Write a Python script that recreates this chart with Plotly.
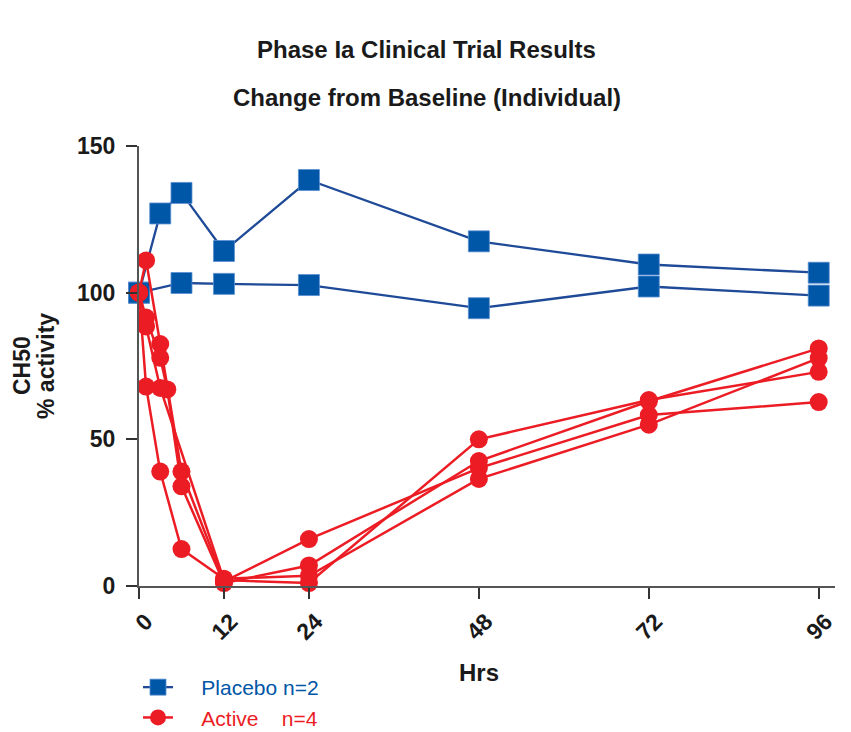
import plotly.graph_objects as go

# ---------------- data ----------------
tick_hours = [0, 12, 24, 48, 72, 96]
tick_labels = ["0", "12", "24", "48", "72", "96"]

placebo1_h = [0, 3, 6, 12, 24, 48, 72, 96]
placebo1_v = [100, 127, 134, 114.2, 138.4, 117.5, 109.6, 106.8]
placebo2_h = [0, 6, 12, 24, 48, 72, 96]
placebo2_v = [100, 103.3, 103, 102.6, 94.7, 102.1, 99.0]

active1_h = [0, 1, 3, 6, 12, 24, 48, 72, 96]
active1_v = [100, 111, 82.5, 39, 1.5, 16, 40.2, 58.3, 62.7]
active2_h = [0, 1, 3, 4, 6, 12, 24, 48, 72, 96]
active2_v = [100, 91.5, 77.8, 67, 34, 1, 7, 42.6, 63, 81]
active3_h = [0, 1, 3, 12, 24, 48, 72, 96]
active3_v = [100, 88.5, 67.5, 2, 1, 50, 63.4, 73]
active4_h = [0, 1, 3, 6, 12, 24, 48, 72, 96]
active4_v = [100, 68, 39, 12.6, 2.5, 3.5, 36.5, 55, 77.7]

placebo = [(placebo1_h, placebo1_v), (placebo2_h, placebo2_v)]
active = [(active1_h, active1_v), (active2_h, active2_v),
          (active3_h, active3_v), (active4_h, active4_v)]

placebo_name = "Placebo n=2"
active_name = "Active\u00a0\u00a0\u00a0\u00a0n=4"

# ---------------- style ----------------
BLUE_M = "#0056A7"
BLUE_L = "#1E4A98"
RED = "#EC1C24"
FONT = "Liberation Sans, Arial, Helvetica, sans-serif"
NB = "\u00a0"

fig = go.Figure()

for i, (h, v) in enumerate(placebo):
    fig.add_trace(go.Scatter(
        x=h, y=v, mode="lines+markers",
        name=f"<span style='color:{BLUE_M}'>{NB*4}{placebo_name}</span>",
        legendgroup="placebo", showlegend=(i == 0),
        line=dict(color=BLUE_L, width=2.3),
        marker=dict(symbol="square", size=21, color=BLUE_M,
                    line=dict(color="#5b8fd0", width=0.8)),
        cliponaxis=False,
    ))

for i, (h, v) in enumerate(active):
    fig.add_trace(go.Scatter(
        x=h, y=v, mode="lines+markers",
        name=f"<span style='color:{RED}'>{NB*4}{active_name}</span>",
        legendgroup="active", showlegend=(i == 0),
        line=dict(color=RED, width=2.5),
        marker=dict(symbol="circle", size=18, color=RED, line=dict(width=0)),
        cliponaxis=False,
    ))

axis_common = dict(
    showline=True, linecolor="#555555", linewidth=2,
    ticks="outside", ticklen=11, tickwidth=1.5, tickcolor="#333333",
    showgrid=False, zeroline=False, automargin=False,
    tickfont=dict(family=FONT, size=23, color="#1a1a1a", weight="bold"),
)

fig.update_xaxes(
    range=[0, 98.3], tickvals=tick_hours, ticktext=tick_labels,
    tickangle=-45, ticklabelshift=7, **axis_common,
)
fig.update_yaxes(
    range=[0, 150], tickvals=[0, 50, 100, 150], ticklabelstandoff=6,
    **axis_common,
)

def ann(text, x, y, size, angle=0, bold=True):
    fig.add_annotation(
        text=text, x=x, y=y, xref="paper", yref="paper",
        xanchor="center", yanchor="middle", showarrow=False,
        textangle=angle,
        font=dict(family=FONT, size=size, color="#1a1a1a",
                  weight="bold" if bold else "normal"),
    )

# plot area in page pixels: x 139..835, y 146..586 (page has 8px body margin)
W, H = 696.0, 440.0
def px(xp):
    return (xp - 139) / W
def py(yp):
    return (586 - yp) / H

ann("Phase Ia Clinical Trial Results", px(426), py(50), 24)
ann("Change from Baseline (Individual)", px(427), py(97), 24)
ann("Hrs", px(479), py(672), 24)
ann("CH50", px(22), py(366), 23, angle=-90)
ann("% activity", px(46), py(366), 23, angle=-90)

fig.update_layout(
    width=843, height=724,
    margin=dict(l=131, r=16, t=138, b=146, autoexpand=False),
    plot_bgcolor="white", paper_bgcolor="white",
    font=dict(family=FONT),
    legend=dict(
        x=px(138), y=py(667), xanchor="left", yanchor="top",
        font=dict(family=FONT, size=21),
        bgcolor="rgba(0,0,0,0)", tracegroupgap=0,
        itemsizing="trace",
    ),
)

fig.write_html("out.html")
